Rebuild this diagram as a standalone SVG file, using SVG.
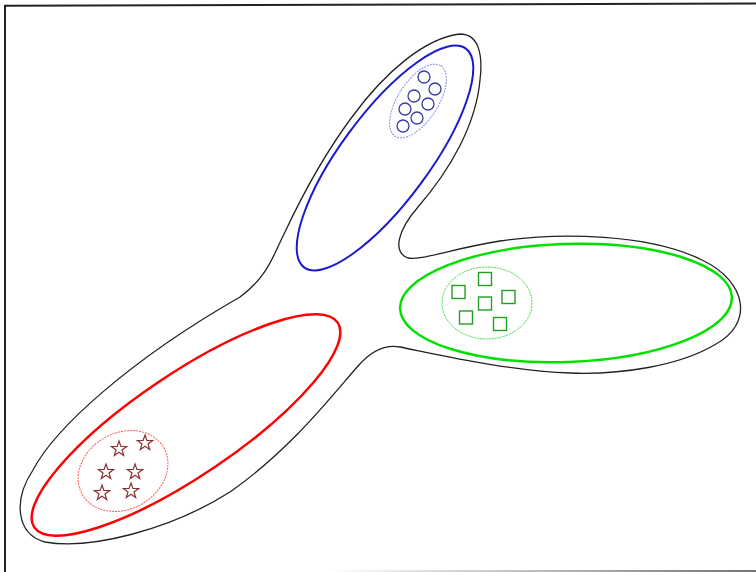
<svg xmlns="http://www.w3.org/2000/svg" width="756" height="572" viewBox="0 0 756 572">
  <defs>
    <linearGradient id="fade" x1="330" y1="0" x2="756" y2="0" gradientUnits="userSpaceOnUse">
      <stop offset="0" stop-color="#ffffff"/>
      <stop offset="1" stop-color="#444444"/>
    </linearGradient>
    <polygon id="star" points="0,-8 1.9,-2.6 7.6,-2.5 3,0.9 4.7,6.5 0,3.2 -4.7,6.5 -3,0.9 -7.6,-2.5 -1.9,-2.6"/>
  </defs>
  <style>
    .outer { fill: none; stroke: #222; stroke-width: 1.3; }
    .blue { fill: none; stroke: #1a1acc; stroke-width: 2; }
    .green { fill: none; stroke: #00e000; stroke-width: 2.5; }
    .red { fill: none; stroke: #ff0000; stroke-width: 2.5; }
    .dotblue { fill: none; stroke: #8c8ce0; stroke-width: 1; stroke-dasharray: 2 1; }
    .dotgreen { fill: none; stroke: #33dd33; stroke-width: 1; stroke-dasharray: 2 1; }
    .dotred { fill: none; stroke: #ff5555; stroke-width: 1; stroke-dasharray: 2 1; }
    .circ { fill: none; stroke: #3a3aa8; stroke-width: 1.3; }
    .sq { fill: none; stroke: #22a022; stroke-width: 1.4; }
    .st { fill: none; stroke: #8a3030; stroke-width: 1.2; }
  </style>
  <rect width="756" height="572" fill="#ffffff"/>
  <g id="frame">
    <line x1="5" y1="5" x2="5" y2="572" stroke="#222" stroke-width="2"/>
    <line x1="4" y1="5.8" x2="756" y2="3.5" stroke="#222" stroke-width="2"/>
    <line x1="330" y1="571" x2="756" y2="571" stroke="url(#fade)" stroke-width="1.5"/>
  </g>
  <g id="outline">
    <path class="outer" d="M 460,34 C 479,34 483,55 480,80 C 476,125 450,170 418,207 C 398,230 392,252 408,258 C 420,261 450,249 500,241 C 560,232 650,234 702,260 C 748,282 753,324 716,344 C 680,366 620,375 570,373 C 510,371 440,355 400,347 C 385,344 372,350 358,366 C 330,398 290,450 230,492 C 170,530 90,550 45,542 C 16,534 13,500 33,470 C 55,428 130,360 240,297 C 268,276 272,258 285,232 C 300,200 320,160 352,117 C 385,72 425,38 460,34 Z"/>
  </g>
  <g id="blue-set">
    <ellipse class="blue" cx="0" cy="0" rx="136" ry="44" transform="translate(385,158) rotate(-53.5)"/>
    <ellipse class="dotblue" cx="0" cy="0" rx="42" ry="20" transform="translate(418,101) rotate(-57)"/>
    <circle class="circ" cx="424" cy="77" r="6"/>
    <circle class="circ" cx="435" cy="89" r="6"/>
    <circle class="circ" cx="414" cy="96" r="6"/>
    <circle class="circ" cx="428" cy="104" r="6"/>
    <circle class="circ" cx="405" cy="109" r="6"/>
    <circle class="circ" cx="417" cy="118" r="6"/>
    <circle class="circ" cx="403" cy="126" r="6"/>
  </g>
  <g id="green-set">
    <ellipse class="green" cx="0" cy="0" rx="166" ry="59" transform="translate(566,303) rotate(-2)"/>
    <ellipse class="dotgreen" cx="487" cy="303" rx="45" ry="36"/>
    <rect class="sq" x="478.5" y="272.5" width="13" height="13"/>
    <rect class="sq" x="452" y="285.5" width="13" height="13"/>
    <rect class="sq" x="502" y="290.5" width="13" height="13"/>
    <rect class="sq" x="478.5" y="297" width="13" height="13"/>
    <rect class="sq" x="459.5" y="311" width="13" height="13"/>
    <rect class="sq" x="493.5" y="317.5" width="13" height="13"/>
  </g>
  <g id="red-set">
    <ellipse class="red" cx="0" cy="0" rx="183" ry="51" transform="translate(186,425) rotate(-34)"/>
    <ellipse class="dotred" cx="0" cy="0" rx="47" ry="38" transform="translate(123,471) rotate(-30)"/>
    <use href="#star" class="st" x="119" y="449"/>
    <use href="#star" class="st" x="145" y="443"/>
    <use href="#star" class="st" x="106" y="472"/>
    <use href="#star" class="st" x="135" y="472"/>
    <use href="#star" class="st" x="102" y="493"/>
    <use href="#star" class="st" x="131" y="491"/>
  </g>
</svg>
